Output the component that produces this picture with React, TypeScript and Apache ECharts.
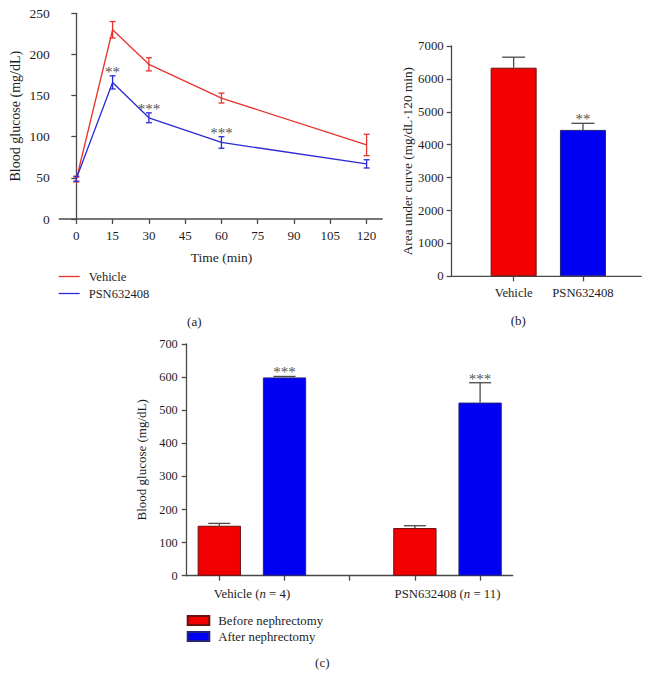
import React, { useEffect, useRef } from "react";
import * as echarts from "echarts";

// ---------- data ----------
// (a) glucose tolerance time course
const timePoints = [0, 15, 30, 60, 120];
const vehicleMean = [48, 230, 188, 147, 90];
const vehicleSem = [3, 10, 8, 6, 13];
const psnMean = [49, 166, 123, 93, 67];
const psnSem = [3, 8, 6, 7, 5];
const psnSig = ["", "**", "***", "***", ""];

// (b) area under curve
const aucGroups = ["Vehicle", "PSN632408"];
const aucMean = [6340, 4450];
const aucSem = [320, 200];
const aucSig = ["", "**"];

// (c) nephrectomy
const nephSlots = ["v-before", "v-after", "gap", "p-before", "p-after"];
const nephGroupLabels = ["Vehicle", "PSN632408"];
const nephGroupN = [4, 11];
const beforeMean = [151, 144];
const beforeSem = [7, 7];
const afterMean = [599, 523];
const afterSem = [3, 60];
const afterSig = ["***", "***"];

// ---------- styles ----------
const SERIF = '"Liberation Serif", "Times New Roman", serif';
const AXIS = "#4a4a4a";
const TXT = "#1e1e1e";
const RED_LINE = "#e8322c";
const BLUE_LINE = "#2a2ad6";
const RED_FILL = "#f20000";
const BLUE_FILL = "#0000f2";
const ERR = "#4a4a4a";
const STAR = "#555555";

function errRenderer(cap: number, color: string, both: boolean) {
  return (params: any, api: any) => {
    const x = api.value(0);
    const m = api.value(1);
    const e = api.value(2);
    const c = api.coord([x, m]);
    const t = api.coord([x, m + e]);
    const b = api.coord([x, both ? m - e : m]);
    const st = { stroke: color, lineWidth: 1.3 };
    const children: any[] = [
      { type: "line", shape: { x1: c[0], y1: t[1], x2: c[0], y2: b[1] }, style: st },
      { type: "line", shape: { x1: c[0] - cap / 2, y1: t[1], x2: c[0] + cap / 2, y2: t[1] }, style: st },
    ];
    if (both) {
      children.push({ type: "line", shape: { x1: c[0] - cap / 2, y1: b[1], x2: c[0] + cap / 2, y2: b[1] }, style: st });
    }
    return { type: "group", children };
  };
}

function starRenderer(labels: string[]) {
  return (params: any, api: any) => {
    const p = api.coord([api.value(0), api.value(1)]);
    return {
      type: "text",
      x: p[0],
      y: p[1] + 3.5,
      style: {
        text: labels[params.dataIndex],
        font: `15px ${SERIF}`,
        fill: STAR,
        align: "center",
        verticalAlign: "bottom",
      },
    };
  };
}

const axisLine = { show: true, lineStyle: { color: AXIS, width: 1.3 } };
const axisTick = { show: true, inside: false, length: 5, lineStyle: { color: AXIS, width: 1.3 } };
const lbl = (margin: number, size: number) => ({
  color: TXT,
  fontFamily: SERIF,
  fontSize: size,
  margin,
  formatter: (v: any) => String(v),
});

const lineIcon = "path://M0,0 L21,0 L21,1.3 L0,1.3 Z";

function buildOption(): any {
  const starA = psnMean
    .map((m, i) => ({ x: timePoints[i], y: m + psnSem[i], s: psnSig[i] }))
    .filter((d) => d.s);
  const starB = aucMean
    .map((m, i) => ({ x: i, y: m + aucSem[i], s: aucSig[i] }))
    .filter((d) => d.s);
  const afterSlots = [1, 4];
  const beforeSlots = [0, 3];
  const starC = afterMean.map((m, i) => ({ x: afterSlots[i], y: m + afterSem[i], s: afterSig[i] }));

  const beforeData: any[] = nephSlots.map(() => "-");
  const afterData: any[] = nephSlots.map(() => "-");
  beforeSlots.forEach((s, i) => (beforeData[s] = beforeMean[i]));
  afterSlots.forEach((s, i) => (afterData[s] = afterMean[i]));

  const nephLabelPos = [1, 4];

  return {
    animation: false,
    backgroundColor: "#ffffff",
    textStyle: { fontFamily: SERIF },
    grid: [
      { left: 76.3, top: 13.3, width: 290.3, height: 205.7 },
      { left: 479, top: 46, width: 138.6, height: 230.3 },
      { left: 186.7, top: 344, width: 326, height: 231.7 },
    ],
    xAxis: [
      {
        type: "value",
        gridIndex: 0,
        min: 0,
        max: 120,
        interval: 15,
        axisLine: { show: false },
        axisTick,
        axisLabel: lbl(10, 13),
        splitLine: { show: false },
        name: "Time (min)",
        nameLocation: "middle",
        nameGap: 31,
        nameTextStyle: { color: TXT, fontFamily: SERIF, fontSize: 13.5 },
      },
      {
        type: "category",
        gridIndex: 1,
        data: aucGroups,
        axisLine: { show: false },
        axisTick: { ...axisTick, alignWithLabel: true },
        axisLabel: { ...lbl(10, 12.7), interval: 0 },
      },
      {
        type: "category",
        gridIndex: 2,
        data: nephSlots,
        axisLine,
        axisTick: { ...axisTick, alignWithLabel: true, interval: 0 },
        axisLabel: { show: false },
      },
      {
        type: "value",
        gridIndex: 2,
        position: "bottom",
        min: 0,
        max: 5,
        interval: 1,
        axisLine: { show: false },
        axisTick: { show: false },
        splitLine: { show: false },
        axisLabel: {
          color: TXT,
          margin: 12,
          formatter: (v: number) => {
            const i = nephLabelPos.indexOf(v);
            if (i < 0) return "";
            return `{a|${nephGroupLabels[i]} (}{i|n}{a| = ${nephGroupN[i]})}`;
          },
          rich: {
            a: { fontFamily: SERIF, fontSize: 12.8, color: TXT },
            i: { fontFamily: SERIF, fontSize: 12.8, color: TXT, fontStyle: "italic" },
          },
        },
      },
    ],
    yAxis: [
      {
        type: "value",
        gridIndex: 0,
        min: 0,
        max: 250,
        interval: 50,
        offset: 17.6,
        axisLine,
        axisTick,
        axisLabel: lbl(9, 13.5),
        splitLine: { show: false },
        name: "Blood glucose (mg/dL)",
        nameLocation: "middle",
        nameGap: 36,
        nameTextStyle: { color: TXT, fontFamily: SERIF, fontSize: 14 },
      },
      {
        type: "value",
        gridIndex: 1,
        min: 0,
        max: 7000,
        interval: 1000,
        offset: 27.3,
        axisLine,
        axisTick,
        axisLabel: lbl(8, 12.8),
        splitLine: { show: false },
        name: "Area under curve (mg/dL·120 min)",
        nameLocation: "middle",
        nameGap: 38,
        nameTextStyle: { color: TXT, fontFamily: SERIF, fontSize: 13.3 },
      },
      {
        type: "value",
        gridIndex: 2,
        min: 0,
        max: 700,
        interval: 100,
        axisLine,
        axisTick,
        axisLabel: lbl(9, 12.3),
        splitLine: { show: false },
        name: "Blood glucose (mg/dL)",
        nameLocation: "middle",
        nameGap: 35,
        nameTextStyle: { color: TXT, fontFamily: SERIF, fontSize: 13 },
      },
    ],
    legend: [
      {
        data: [
          { name: "Vehicle", icon: lineIcon },
          { name: "PSN632408", icon: lineIcon },
        ],
        orient: "vertical",
        left: 58.7,
        top: 270,
        padding: 0,
        itemWidth: 21,
        itemHeight: 1.3,
        itemGap: 4,
        textStyle: { color: TXT, fontFamily: SERIF, fontSize: 12.5, padding: [0, 0, 0, 4] },
      },
      {
        data: ["Before nephrectomy", "After nephrectomy"],
        orient: "vertical",
        left: 186.7,
        top: 614,
        padding: 0,
        icon: "rect",
        itemWidth: 21.6,
        itemHeight: 9,
        itemGap: 3,
        textStyle: { color: TXT, fontFamily: SERIF, fontSize: 12.8, padding: [0, 0, 0, 4] },
      },
    ],
    graphic: [
      { type: "line", shape: { x1: 58.7, y1: 219, x2: 382.7, y2: 219 }, style: { stroke: AXIS, lineWidth: 1.3 } },
      { type: "line", shape: { x1: 451.7, y1: 276.3, x2: 641.7, y2: 276.3 }, style: { stroke: AXIS, lineWidth: 1.3 } },
      { type: "text", x: 194.3, y: 321, style: { text: "(a)", font: `13px ${SERIF}`, fill: TXT, align: "center", verticalAlign: "middle" } },
      { type: "text", x: 518.3, y: 320, style: { text: "(b)", font: `13px ${SERIF}`, fill: TXT, align: "center", verticalAlign: "middle" } },
      { type: "text", x: 322.3, y: 662, style: { text: "(c)", font: `13px ${SERIF}`, fill: TXT, align: "center", verticalAlign: "middle" } },
    ],
    series: [
      // (a)
      {
        name: "Vehicle",
        type: "line",
        xAxisIndex: 0,
        yAxisIndex: 0,
        symbol: "none",
        color: RED_LINE,
        lineStyle: { width: 1.3, color: RED_LINE },
        data: timePoints.map((t, i) => [t, vehicleMean[i]]),
      },
      {
        name: "PSN632408",
        type: "line",
        xAxisIndex: 0,
        yAxisIndex: 0,
        symbol: "none",
        color: BLUE_LINE,
        lineStyle: { width: 1.3, color: BLUE_LINE },
        data: timePoints.map((t, i) => [t, psnMean[i]]),
      },
      {
        name: "err-vehicle",
        type: "custom",
        xAxisIndex: 0,
        yAxisIndex: 0,
        z: 3,
        clip: false,
        renderItem: errRenderer(6, RED_LINE, true),
        data: timePoints.map((t, i) => [t, vehicleMean[i], vehicleSem[i]]),
      },
      {
        name: "err-psn",
        type: "custom",
        xAxisIndex: 0,
        yAxisIndex: 0,
        z: 3,
        clip: false,
        renderItem: errRenderer(6, BLUE_LINE, true),
        data: timePoints.map((t, i) => [t, psnMean[i], psnSem[i]]),
      },
      {
        name: "stars-a",
        type: "custom",
        xAxisIndex: 0,
        yAxisIndex: 0,
        z: 4,
        clip: false,
        renderItem: starRenderer(starA.map((d) => d.s)),
        data: starA.map((d) => [d.x, d.y]),
      },
      // (b)
      {
        name: "auc",
        type: "bar",
        xAxisIndex: 1,
        yAxisIndex: 1,
        barWidth: 46,
        data: aucMean.map((v, i) => ({
          value: v,
          itemStyle:
            i === 0
              ? { color: RED_FILL, borderColor: "#6e1010", borderWidth: 1 }
              : { color: BLUE_FILL, borderColor: "#23237a", borderWidth: 1 },
        })),
      },
      {
        name: "err-auc",
        type: "custom",
        xAxisIndex: 1,
        yAxisIndex: 1,
        z: 3,
        clip: false,
        renderItem: errRenderer(23, ERR, false),
        data: aucMean.map((v, i) => [i, v, aucSem[i]]),
      },
      {
        name: "stars-b",
        type: "custom",
        xAxisIndex: 1,
        yAxisIndex: 1,
        z: 4,
        clip: false,
        renderItem: starRenderer(starB.map((d) => d.s)),
        data: starB.map((d) => [d.x, d.y]),
      },
      // (c)
      {
        name: "Before nephrectomy",
        type: "bar",
        xAxisIndex: 2,
        yAxisIndex: 2,
        barWidth: 43.3,
        barGap: "-100%",
        color: RED_FILL,
        itemStyle: { color: RED_FILL, borderColor: "#6e1010", borderWidth: 1 },
        data: beforeData,
      },
      {
        name: "After nephrectomy",
        type: "bar",
        xAxisIndex: 2,
        yAxisIndex: 2,
        barWidth: 43.3,
        barGap: "-100%",
        color: BLUE_FILL,
        itemStyle: { color: BLUE_FILL, borderColor: "#23237a", borderWidth: 1 },
        data: afterData,
      },
      {
        name: "err-before",
        type: "custom",
        xAxisIndex: 2,
        yAxisIndex: 2,
        z: 3,
        clip: false,
        renderItem: errRenderer(22, ERR, false),
        data: beforeMean.map((v, i) => [beforeSlots[i], v, beforeSem[i]]),
      },
      {
        name: "err-after",
        type: "custom",
        xAxisIndex: 2,
        yAxisIndex: 2,
        z: 3,
        clip: false,
        renderItem: errRenderer(22, ERR, false),
        data: afterMean.map((v, i) => [afterSlots[i], v, afterSem[i]]),
      },
      {
        name: "stars-c",
        type: "custom",
        xAxisIndex: 2,
        yAxisIndex: 2,
        z: 4,
        clip: false,
        renderItem: starRenderer(starC.map((d) => d.s)),
        data: starC.map((d) => [d.x, d.y]),
      },
    ],
  };
}

export default function App() {
  const ref = useRef<HTMLDivElement>(null);
  useEffect(() => {
    if (!ref.current) return;
    const chart = echarts.init(ref.current, null, { renderer: "svg" });
    chart.setOption(buildOption());
    return () => chart.dispose();
  }, []);
  return (
    <div
      ref={ref}
      style={{ position: "fixed", left: 0, top: 0, width: 650, height: 689, background: "#fff" }}
    />
  );
}
